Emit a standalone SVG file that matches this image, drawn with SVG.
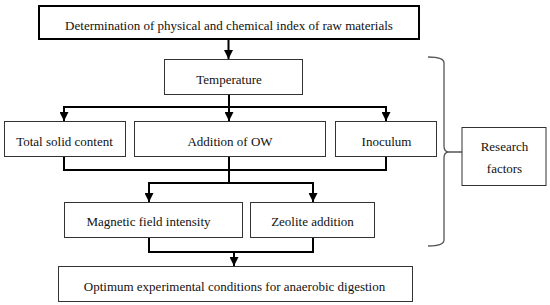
<svg xmlns="http://www.w3.org/2000/svg" width="550" height="305" viewBox="0 0 550 305">
<style>
.box{fill:#fff;stroke:#333;stroke-width:1}
.thick{fill:#fff;stroke:#000;stroke-width:2}
.t{font-family:"Liberation Serif","Times New Roman",serif;font-size:13px;fill:#111;text-anchor:middle}
.c{fill:none;stroke:#000;stroke-width:2}
.a{fill:none;stroke:#000;stroke-width:2;marker-end:url(#arr)}
.br{fill:none;stroke:#555;stroke-width:1.3}
</style>
<defs>
<marker id="arr" markerUnits="userSpaceOnUse" markerWidth="9" markerHeight="9" refX="8" refY="4" orient="auto" viewBox="0 0 8 8">
<path d="M0,0 L8,4 L0,8 z" fill="#000"/>
</marker>
</defs>
<rect width="550" height="305" fill="#fff"/>
<g id="connectors">
<path class="a" d="M228.5,39.5 V59"/>
<path class="c" d="M229,94 V107 M64,107 H386"/>
<path class="a" d="M64,106 V121"/>
<path class="a" d="M229,106 V121"/>
<path class="a" d="M386,106 V121"/>
<path class="c" d="M64,156 V170 H386 V156 M229,156 V183 M149,183 H313"/>
<path class="a" d="M149,182 V202"/>
<path class="a" d="M313,182 V202"/>
<path class="c" d="M149,237 V252 H313 V237"/>
<path class="a" d="M234,251 V266"/>
<path class="br" d="M428,57 Q444,57 444,63 V146 Q444,152 449,152 Q444,152 444,158 V240 Q444,246 428,246 M449,152 H462"/>
</g>
<g id="n-top"><rect class="thick" x="39" y="6" width="380" height="33"/><text class="t" x="229" y="30">Determination of physical and chemical index of raw materials</text></g>
<g id="n-temp"><rect class="box" x="164.5" y="59.5" width="138" height="35"/><text class="t" x="229" y="84">Temperature</text></g>
<g id="n-ts"><rect class="box" x="4.5" y="121.5" width="121" height="35"/><text class="t" x="64.5" y="145.5">Total solid content</text></g>
<g id="n-ow"><rect class="box" x="134.5" y="121.5" width="191" height="35"/><text class="t" x="230" y="145.5">Addition of OW</text></g>
<g id="n-ino"><rect class="box" x="335.5" y="121.5" width="101" height="35"/><text class="t" x="386.5" y="145.5">Inoculum</text></g>
<g id="n-mag"><rect class="box" x="64.5" y="202.5" width="178" height="35"/><text class="t" x="148.5" y="226">Magnetic field intensity</text></g>
<g id="n-zeo"><rect class="box" x="250.5" y="202.5" width="124" height="35"/><text class="t" x="312.5" y="226">Zeolite addition</text></g>
<g id="n-opt"><rect class="box" x="58.5" y="266.5" width="354" height="35"/><text class="t" x="234.5" y="291">Optimum experimental conditions for anaerobic digestion</text></g>
<g id="n-res"><rect class="box" x="462" y="127.5" width="84" height="58"/><text class="t" x="504.5" y="151">Research</text><text class="t" x="504.5" y="172.5">factors</text></g>
</svg>
